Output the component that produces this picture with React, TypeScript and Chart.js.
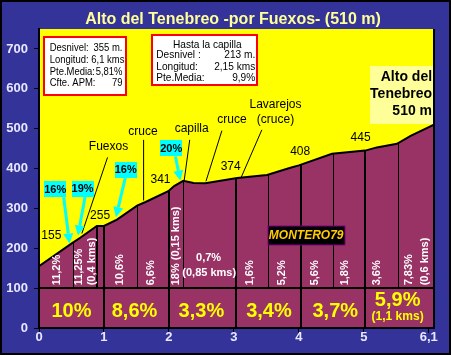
import React, { useEffect, useRef } from "react";
import { Chart, registerables } from "chart.js";
Chart.register(...registerables);

// ---------- DATA ----------
const profileKm = [0, 0.51, 0.64, 0.89, 1.0, 1.2, 1.51, 1.64, 1.99, 2.08, 2.22, 2.38, 2.56, 3.05, 3.51, 3.87, 4.0, 4.51, 5.02, 5.2, 5.51, 5.72, 6.08];
const profileElev = [155, 213, 227, 256, 256, 272, 307, 316, 343, 356, 369, 364, 363, 376, 384, 402, 408, 437, 445, 453, 462, 482, 510];

const xTickValues = [0, 1, 2, 3, 4, 5, 6];
const xTickLabels = ["0", "1", "2", "3", "4", "5", "6,1"];
const yTickValues = [0, 100, 200, 300, 400, 500, 600, 700];

const thinDividers = [0.52, 1.51, 2.22, 3.52, 4.52, 5.52];
const partialThickDividers = [0.89];
const fullDividers = [1, 2, 3.03, 4.04, 5.02];

const elevLabels = ["155", "255", "341", "374", "408", "445"];
const elevLabelX = [0.19, 0.94, 1.87, 2.95, 4.02, 4.95];
const elevLabelY = [231, 281, 372, 405, 443, 478];

const placeNames = ["Fuexos", "cruce", "capilla", "cruce", "Lavarejos", "(cruce)"];
const placeX = [1.07, 1.6, 2.35, 2.97, 3.64, 3.64];
const placeY = [455, 493, 501, 522, 559, 522];

const leaderFromX = [1.055, 1.61, 2.32, 2.815, 3.43];
const leaderFromY = [428, 472, 472, 495, 497];
const leaderToX = [0.66, 1.61, 2.235, 2.57, 3.11];
const leaderToY = [237, 320, 370, 368, 377];

const calloutText = ["16%", "19%", "16%", "20%"];
const calloutX = [0.25, 0.67, 1.335, 2.035];
const calloutY = [347.5, 349, 397.5, 451];
const arrowFromX = [0.38, 0.71, 1.33, 2.1];
const arrowFromY = [328, 330, 378, 430];
const arrowToX = [0.47, 0.6, 1.185, 2.175];
const arrowToY = [212, 232, 278, 370];

const segRotText = ["11,2%", "11,25%", "(0,4 kms)", "10,6%", "6,6%", "18% (0,15 kms)", "1,6%", "5,2%", "5,6%", "1,8%", "3,6%", "7,83%", "(0,6 kms)"];
const segRotX = [0.28, 0.62, 0.81, 1.25, 1.73, 2.11, 3.24, 3.74, 4.25, 4.71, 5.2, 5.69, 5.94];
const segRotBaseY = 107;

const segHorText = ["0,7%", "(0,85 kms)"];
const segHorX = [2.61, 2.62];
const segHorY = [176, 137];

const bottomText = ["10%", "8,6%", "3,3%", "3,4%", "3,7%", "5,9%"];
const bottomX = [0.5, 1.47, 2.5, 3.54, 4.56, 5.52];
const bottomY = [42.5, 42.5, 42.5, 42.5, 42.5, 70];
const bottomSubText = "(1,1 kms)";
const bottomSubX = 5.52;
const bottomSubY = 27.5;

const box1Rect = [0.0815, 730, 1.338, 585];
const box1Labels = ["Desnivel:", "Longitud: 6,1 kms", "Pte.Media:", "Cfte. APM:"];
const box1Values = ["355 m.", "", "5,81%", "79"];
const box1LineY = [703, 672, 643, 614];
const box1LeftX = 0.165;
const box1RightX = 1.285;

const box2Rect = [1.743, 734, 3.363, 609];
const box2Heading = "Hasta la capilla";
const box2HeadingX = 2.59;
const box2HeadingY = 711;
const box2Labels = ["Desnivel :", "Longitud:", "Pte.Media:"];
const box2Values = ["213 m.", "2,15 kms", "9,9%"];
const box2LineY = [684, 656, 627];
const box2LeftX = 1.805;
const box2RightX = 3.328;

const summitRect = [5.097, 657.5, 6.08, 512.5];
const summitLines = ["Alto del", "Tenebreo", "510 m"];
const summitLineY = [628, 587, 545];
const summitRightX = 6.05;

const signRect = [3.523, 255, 4.712, 207.5];
const signText = "MONTERO79";
const signX = 4.112;
const signY = 231;

const titleText = "Alto del Tenebreo -por Fuexos- (510 m)";

// ---------- helpers ----------
function interp(k: number): number {
  for (let i = 0; i < profileKm.length - 1; i++) {
    if (k >= profileKm[i] && k <= profileKm[i + 1]) {
      const t = (k - profileKm[i]) / (profileKm[i + 1] - profileKm[i]);
      return profileElev[i] + t * (profileElev[i + 1] - profileElev[i]);
    }
  }
  return profileElev[profileElev.length - 1];
}

function narrowText(ctx: any, t: string, x: number, y: number, align: string, sx: number) {
  ctx.save();
  ctx.translate(x, y);
  ctx.scale(sx, 1);
  ctx.textAlign = align;
  ctx.fillText(t, 0, 0);
  ctx.restore();
}

const profilePlugin = {
  id: "profileDecor",
  beforeDraw(chart: any) {
    const ctx = chart.ctx;
    const a = chart.chartArea;
    ctx.save();
    ctx.fillStyle = "#333399";
    ctx.fillRect(0, 0, chart.width, chart.height);
    ctx.fillStyle = "#FFFF00";
    ctx.fillRect(a.left, a.top, a.right - a.left, a.bottom - a.top);
    ctx.restore();
  },
  afterDatasetsDraw(chart: any) {
    const ctx = chart.ctx;
    const xs = chart.scales.x;
    const ys = chart.scales.y;
    const X = (v: number) => xs.getPixelForValue(v);
    const Y = (v: number) => ys.getPixelForValue(v);
    const a = chart.chartArea;
    ctx.save();

    // horizontal line at 100
    ctx.strokeStyle = "#000";
    ctx.lineWidth = 2;
    ctx.beginPath();
    ctx.moveTo(a.left, Math.round(Y(100)));
    ctx.lineTo(a.right, Math.round(Y(100)));
    ctx.stroke();

    // dividers
    ctx.lineWidth = 1;
    thinDividers.forEach((k) => {
      const x = Math.round(X(k)) + 0.5;
      ctx.beginPath();
      ctx.moveTo(x, Y(100));
      ctx.lineTo(x, Y(interp(k)));
      ctx.stroke();
    });
    ctx.lineWidth = 2;
    partialThickDividers.forEach((k) => {
      const x = Math.round(X(k));
      ctx.beginPath();
      ctx.moveTo(x, Y(100));
      ctx.lineTo(x, Y(interp(k)));
      ctx.stroke();
    });
    fullDividers.forEach((k) => {
      const x = Math.round(X(k));
      ctx.beginPath();
      ctx.moveTo(x, Y(0));
      ctx.lineTo(x, Y(interp(k)));
      ctx.stroke();
    });

    // leader lines
    ctx.lineWidth = 1;
    ctx.strokeStyle = "#000";
    leaderFromX.forEach((_, i) => {
      ctx.beginPath();
      ctx.moveTo(X(leaderFromX[i]), Y(leaderFromY[i]));
      ctx.lineTo(X(leaderToX[i]), Y(leaderToY[i]));
      ctx.stroke();
    });

    // elevation labels
    ctx.fillStyle = "#000";
    ctx.font = "12px Arial, 'Liberation Sans', sans-serif";
    ctx.textAlign = "center";
    ctx.textBaseline = "middle";
    elevLabels.forEach((t, i) => ctx.fillText(t, X(elevLabelX[i]), Y(elevLabelY[i])));
    placeNames.forEach((t, i) => ctx.fillText(t, X(placeX[i]), Y(placeY[i])));

    // cyan arrows
    ctx.strokeStyle = "#00FFFF";
    ctx.fillStyle = "#00FFFF";
    ctx.lineWidth = 3;
    arrowFromX.forEach((_, i) => {
      const x1 = X(arrowFromX[i]), y1 = Y(arrowFromY[i]);
      const x2 = X(arrowToX[i]), y2 = Y(arrowToY[i]);
      const ang = Math.atan2(y2 - y1, x2 - x1);
      const hl = 10, hw = 5;
      const bx = x2 - hl * Math.cos(ang), by = y2 - hl * Math.sin(ang);
      ctx.beginPath();
      ctx.moveTo(x1, y1);
      ctx.lineTo(bx, by);
      ctx.stroke();
      ctx.beginPath();
      ctx.moveTo(x2, y2);
      ctx.lineTo(bx + hw * Math.sin(ang), by - hw * Math.cos(ang));
      ctx.lineTo(bx - hw * Math.sin(ang), by + hw * Math.cos(ang));
      ctx.closePath();
      ctx.fill();
    });
    // callout boxes
    calloutText.forEach((t, i) => {
      const cx = X(calloutX[i]), cy = Y(calloutY[i]);
      ctx.fillStyle = "#00FFFF";
      ctx.fillRect(Math.round(cx - 11), Math.round(cy - 8), 22, 16);
      ctx.fillStyle = "#000";
      ctx.font = "bold 11px Arial, 'Liberation Sans', sans-serif";
      ctx.fillText(t, cx, cy + 0.5);
    });

    // rotated segment labels
    ctx.fillStyle = "#FFFFFF";
    ctx.font = "bold 11px Arial, 'Liberation Sans', sans-serif";
    segRotText.forEach((t, i) => {
      ctx.save();
      ctx.translate(X(segRotX[i]), Y(segRotBaseY));
      ctx.rotate(-Math.PI / 2);
      ctx.textAlign = "left";
      ctx.textBaseline = "middle";
      ctx.fillText(t, 0, 0);
      ctx.restore();
    });
    ctx.textAlign = "center";
    ctx.textBaseline = "middle";
    segHorText.forEach((t, i) => ctx.fillText(t, X(segHorX[i]), Y(segHorY[i])));

    // bottom labels
    ctx.fillStyle = "#FFFF00";
    ctx.font = "bold 20px Arial, 'Liberation Sans', sans-serif";
    bottomText.forEach((t, i) => ctx.fillText(t, X(bottomX[i]), Y(bottomY[i])));
    ctx.font = "bold 12px Arial, 'Liberation Sans', sans-serif";
    ctx.fillText(bottomSubText, X(bottomSubX), Y(bottomSubY));

    // info boxes
    const drawBox = (r: number[], fill: string, stroke: string | null, lw: number) => {
      const x1 = Math.round(X(r[0])), y1 = Math.round(Y(r[1]));
      const x2 = Math.round(X(r[2])), y2 = Math.round(Y(r[3]));
      ctx.fillStyle = fill;
      ctx.fillRect(x1, y1, x2 - x1, y2 - y1);
      if (stroke) {
        ctx.strokeStyle = stroke;
        ctx.lineWidth = lw;
        ctx.strokeRect(x1, y1, x2 - x1, y2 - y1);
      }
    };
    const sx = 0.86;
    drawBox(box1Rect, "#FFFFFF", "#FF0000", 2);
    ctx.fillStyle = "#000";
    ctx.font = "11px Arial, 'Liberation Sans', sans-serif";
    ctx.textBaseline = "middle";
    box1Labels.forEach((t, i) => {
      narrowText(ctx, t, X(box1LeftX), Y(box1LineY[i]), "left", sx);
      narrowText(ctx, box1Values[i], X(box1RightX), Y(box1LineY[i]), "right", sx);
    });
    drawBox(box2Rect, "#FFFFFF", "#FF0000", 2);
    ctx.fillStyle = "#000";
    narrowText(ctx, box2Heading, X(box2HeadingX), Y(box2HeadingY), "center", 0.92);
    box2Labels.forEach((t, i) => {
      narrowText(ctx, t, X(box2LeftX), Y(box2LineY[i]), "left", 0.92);
      narrowText(ctx, box2Values[i], X(box2RightX), Y(box2LineY[i]), "right", 0.92);
    });

    // summit box
    drawBox(summitRect, "#FFFF99", null, 0);
    ctx.fillStyle = "#000";
    ctx.font = "bold 14px Arial, 'Liberation Sans', sans-serif";
    ctx.textAlign = "right";
    summitLines.forEach((t, i) => ctx.fillText(t, X(summitRightX), Y(summitLineY[i])));

    // sign box
    drawBox(signRect, "#000000", "#800080", 1);
    ctx.fillStyle = "#FFCC00";
    ctx.font = "italic bold 12px Arial, 'Liberation Sans', sans-serif";
    ctx.textAlign = "center";
    ctx.fillText(signText, X(signX), Y(signY));

    ctx.restore();
  },
  afterDraw(chart: any) {
    const ctx = chart.ctx;
    const a = chart.chartArea;
    ctx.save();
    ctx.strokeStyle = "#000";
    ctx.lineWidth = 2;
    ctx.beginPath();
    ctx.moveTo(a.left, a.top);
    ctx.lineTo(a.left, a.bottom);
    ctx.lineTo(a.right, a.bottom);
    ctx.lineTo(a.right, a.top);
    ctx.stroke();
    // outer frame
    ctx.strokeRect(1, 1, chart.width - 2, chart.height - 2);
    // title
    ctx.fillStyle = "#FFFF99";
    ctx.font = "bold 16px Arial, 'Liberation Sans', sans-serif";
    ctx.textAlign = "center";
    ctx.textBaseline = "middle";
    ctx.fillText(titleText, 233, 20);
    ctx.restore();
  },
};

export default function App() {
  const ref = useRef<HTMLCanvasElement>(null);
  useEffect(() => {
    const canvas = ref.current!;
    const tickFont = { family: "Arial, 'Liberation Sans', sans-serif", size: 13, weight: "bold" as const, lineHeight: 1.2 };
    const chart = new Chart(canvas, {
      type: "line",
      data: {
        datasets: [
          {
            data: profileKm.map((k, i) => ({ x: k, y: profileElev[i] })),
            borderColor: "#000000",
            borderWidth: 2,
            backgroundColor: "#993366",
            fill: "origin",
            pointRadius: 0,
            tension: 0,
          },
        ],
      },
      options: {
        animation: false,
        responsive: false,
        devicePixelRatio: 1,
        events: [],
        layout: { padding: { left: 0, right: 17, top: 29, bottom: 0 } },
        plugins: { legend: { display: false }, tooltip: { enabled: false }, title: { display: false } },
        scales: {
          x: {
            type: "linear",
            min: 0,
            max: 6.08,
            afterBuildTicks: (s: any) => {
              s.ticks = xTickValues.map((v) => ({ value: v }));
            },
            afterFit: (s: any) => {
              s.height = 27;
            },
            ticks: {
              color: "#E8E8FF",
              font: tickFont,
              padding: -3,
              maxRotation: 0,
              autoSkip: false,
              callback: (_v: any, i: number) => xTickLabels[i],
            },
            grid: { display: true, drawOnChartArea: false, drawTicks: true, tickLength: 5, color: "#000", lineWidth: 1 },
            border: { display: true, color: "#000", width: 2 },
          },
          y: {
            type: "linear",
            min: 0,
            max: 750,
            afterBuildTicks: (s: any) => {
              s.ticks = yTickValues.map((v) => ({ value: v }));
            },
            afterFit: (s: any) => {
              s.width = 39;
            },
            ticks: {
              color: "#E8E8FF",
              font: tickFont,
              padding: 6,
              autoSkip: false,
              callback: (v: any) => String(v),
            },
            grid: { display: true, drawOnChartArea: false, drawTicks: true, tickLength: 5, color: "#000", lineWidth: 1 },
            border: { display: true, color: "#000", width: 2 },
          },
        },
      },
      plugins: [profilePlugin],
    } as any);
    return () => chart.destroy();
  }, []);
  return (
    <div style={{ position: "absolute", left: 0, top: 0, width: 451, height: 355 }}>
      <canvas ref={ref} width={451} height={355} style={{ display: "block" }} />
    </div>
  );
}
